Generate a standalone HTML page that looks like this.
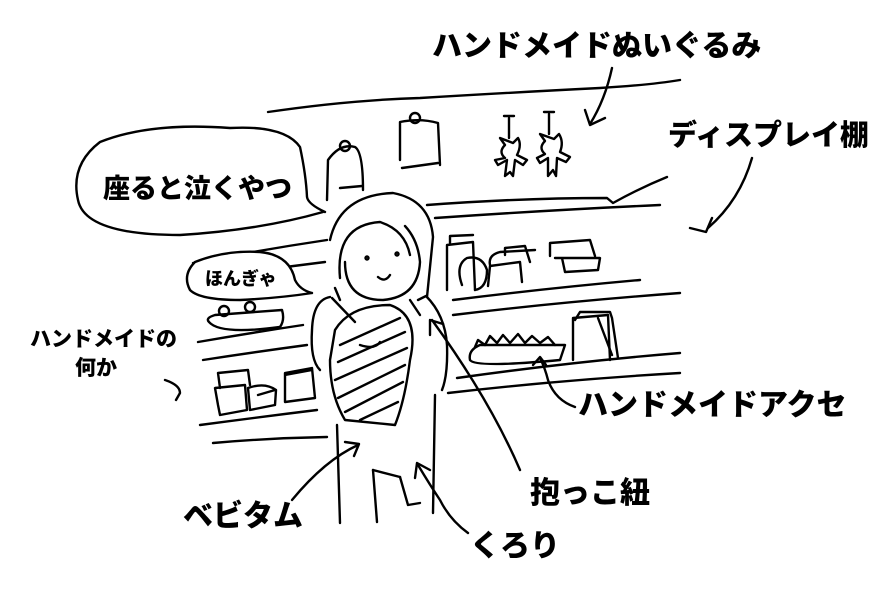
<!DOCTYPE html>
<html><head><meta charset="utf-8"><style>
html,body{margin:0;padding:0;background:#fff;width:890px;height:615px;overflow:hidden}
svg{display:block}
text{font-family:"Liberation Sans","Noto Sans CJK JP",sans-serif;font-weight:900;fill:#000}
</style></head><body>
<svg width="890" height="615" viewBox="0 0 890 615" xmlns="http://www.w3.org/2000/svg">
<g fill="none" stroke="#000" stroke-width="2.4" stroke-linecap="round" stroke-linejoin="round">
<path d="M268 112 Q350 100 420 98 Q520 92 600 88 Q650 85 680 80"/>
<path d="M612 68 Q605 100 590 124"/><path d="M585 110 L590 125 L605 118"/>
<path d="M752 158 Q740 200 708 228"/><path d="M690 228 L706 232 L712 218"/>
<path d="M427 205 Q520 198 607 198 L613 203 Q640 188 667 177"/>
<path d="M435 218 Q550 210 660 205"/>
<path d="M327 200 L328 160 Q340 143 355 147 Q363 152 363 190"/>
<circle cx="345" cy="146" r="5"/>
<path d="M340 188 L362 186"/>
<path d="M400 160 L400 122 Q420 118 438 123 L440 165"/>
<circle cx="415" cy="118" r="5"/>
<path d="M402 168 L438 163"/>
<path d="M509 118 L509 138 M504 116 L514 116"/>
<path d="M500 138 L505 145 Q498 152 505 158 L495 160 L498 165 L507 160 L505 176 L510 172 L513 176 L515 160 L523 165 L527 160 L517 155 Q522 145 518 138 L513 143 Z"/>
<path d="M549 114 L549 134 M544 112 L554 112"/>
<path d="M540 134 L545 141 Q538 148 545 154 L537 158 L540 163 L548 158 L548 176 L553 170 L556 176 L557 158 L566 162 L570 157 L560 152 Q564 142 559 134 L554 139 Z"/>
<path d="M325 212 Q308 204 307 197 Q306 175 300 147 Q285 125 230 128 Q150 122 100 142 Q70 165 78 200 Q85 235 180 235 Q260 230 323 212"/>
<path d="M193 263 Q260 250 327 240"/>
<path d="M195 280 Q260 270 325 262"/>
<path d="M198 342 Q250 333 303 325"/>
<path d="M203 360 Q255 352 307 345"/>
<path d="M200 425 Q260 417 317 410"/>
<path d="M213 443 Q270 438 327 437"/>
<path fill="#fff" d="M312 293 Q300 290 295 280 Q290 255 260 252 Q225 250 195 262 Q182 275 190 290 Q200 300 240 300 Q280 298 312 293"/>
<path d="M209 322 Q220 335 280 327 Q285 320 282 310 L215 315 Q205 318 209 322"/>
<circle cx="224" cy="311" r="5"/><circle cx="250" cy="307" r="5"/>
<path d="M218 405 L215 388 L245 385 L247 410 L220 415 Z M220 388 L218 373 L248 370 L250 385"/>
<path d="M248 388 L250 410 L275 405 L276 390 Q265 382 248 388"/>
<path d="M285 402 L285 373 L312 368 L315 398 Z M285 375 L312 370"/>
<path d="M258 395 L275 390"/>
<path d="M453 300 Q550 288 640 280"/>
<path d="M453 315 Q560 302 680 293"/>
<path d="M457 378 Q570 362 680 353"/>
<path d="M448 393 Q560 380 680 373"/>
<path d="M447 290 L447 245 L473 242 L475 290"/><path d="M450 243 L450 236 L473 235"/>
<path d="M462 285 Q455 265 467 258 Q482 255 487 270 Q487 288 475 290"/>
<path d="M488 286 L490 266 L520 262 L522 282"/><path d="M505 255 L505 248 L525 246 L530 262"/>
<path d="M490 265 Q488 255 500 252 L535 250"/>
<path d="M550 256 L550 243 L590 240 L595 256 M562 258 L565 272 L598 270 L600 258 L555 258"/>
<path d="M470 360 Q475 368 560 360 L565 345 L480 345 Q468 350 470 360"/>
<path d="M475 347 L478 340 L485 345 L490 336 L497 343 L503 335 L510 343 L518 334 L525 343 L532 336 L540 343 L548 337 L555 345"/>
<path d="M573 360 L573 318 L608 315 L610 360"/><path d="M575 320 L580 312 L610 312 L612 318 L618 358"/><path d="M598 318 L612 355"/>
<path d="M330 240 Q340 195 393 193 Q430 200 433 237 L427 297"/>
<path d="M340 278 Q335 225 380 222 Q405 230 410 255"/>
<path d="M345 262 Q345 300 383 300 Q418 297 420 262 Q418 240 405 226"/>
<circle cx="367" cy="258" r="1.5"/><circle cx="397" cy="254" r="1.5"/>
<path d="M378 277 Q385 283 390 275"/>
<path d="M335 288 L340 300"/>
<path d="M330 297 Q313 300 312 330 Q310 360 320 370"/>
<path d="M418 300 L426 296 Q445 315 447 345 Q448 375 442 390"/>
<path d="M332 298 L355 322"/><path d="M410 300 L420 315"/>
<path d="M335 330 Q350 305 390 305 Q420 315 410 360 Q405 400 395 425 L345 420 Q330 395 330 360 Z"/>
<path d="M340 345 L400 318 M338 362 L405 332 M335 380 L407 348 M338 398 L405 365 M345 412 L403 382 M360 420 L398 402"/>
<path d="M360 345 Q375 350 380 342"/>
<path d="M337 425 L340 523"/><path d="M435 395 L433 513"/>
<path d="M373 470 L377 522"/><path d="M400 477 L408 505 L420 503"/>
<path d="M373 470 L400 477"/>
<path d="M520 470 Q490 400 432 320"/><path d="M430 335 L430 320 L443 324"/>
<path d="M292 500 Q325 460 358 445"/><path d="M345 442 L359 444 L354 456"/>
<path d="M468 533 Q450 520 440 500 Q430 485 418 465"/><path d="M415 478 L417 463 L430 470"/>
<path d="M165 380 Q180 385 180 393 L176 400"/>
<path d="M575 407 Q555 400 548 380 Q545 368 540 358"/><path d="M533 365 L540 357 L546 365"/>
</g>
<text x="432" y="56" font-size="30">ハンドメイドぬいぐるみ</text>
<text x="668" y="145" font-size="29">ディスプレイ棚</text>
<text x="103" y="198" font-size="27">座ると泣くやつ</text>
<text x="205" y="285" font-size="18">ほんぎゃ</text>
<text x="30" y="346" font-size="21">ハンドメイドの</text>
<text x="75" y="375" font-size="21">何か</text>
<text x="578" y="415" font-size="30">ハンドメイドアクセ</text>
<text x="530" y="503" font-size="30">抱っこ紐</text>
<text x="183" y="526" font-size="30">ベビタム</text>
<text x="470" y="556" font-size="30">くろり</text>
</svg>
</body></html>
